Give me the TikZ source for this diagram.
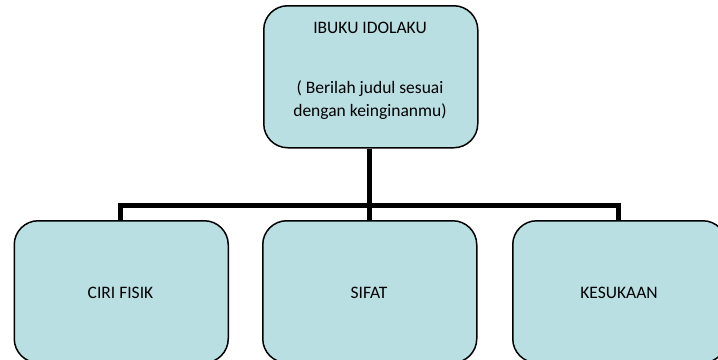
\documentclass[tikz,border=0pt]{standalone}
\usepackage{fontspec}
\setmainfont{Carlito}
\definecolor{boxfill}{HTML}{B9DFE3}
\begin{document}
\begin{tikzpicture}[x=1pt,y=-1pt,
  card/.style={draw=black, line width=1.5pt, fill=boxfill, rounded corners=24pt,
    minimum width=214pt, minimum height=142pt, inner sep=0pt, anchor=north west},
  lbl/.style={font=\fontsize{17.5}{20}\selectfont, text=black},
  conn/.style={draw=black, line width=5pt, line join=miter}]
\useasboundingbox (0,0) rectangle (718,359);
\clip (0,0) rectangle (718,359);
% connector points
\coordinate (hub) at (369,205);
\coordinate (hl) at (120.5,205);
\coordinate (hr) at (618,205);
% boxes
\node[card] (top) at (263,5) {};
\node[card] (ciri) at (13.5,220) {};
\node[card] (sifat) at (262,220) {};
\node[card] (kes) at (512,220) {};
% connectors
\draw[conn] (top.south -| hub) -- (sifat.north -| hub);
\draw[conn] (ciri.north -| hl) -- (hl) -- (hr) -- (kes.north -| hr);
% texts
\node[lbl, anchor=base] (t1) at (370,33) {IBUKU IDOLAKU};
\node[lbl, anchor=base] (t2) at (370,93) {( Berilah judul sesuai};
\node[lbl, anchor=base] (t3) at (370,116) {dengan keinginanmu)};
\node[lbl, anchor=base] (c1) at (120.5,298) {CIRI FISIK};
\node[lbl, anchor=base] (c2) at (369,298) {SIFAT};
\node[lbl, anchor=base] (c3) at (619,298) {KESUKAAN};
\end{tikzpicture}
\end{document}
